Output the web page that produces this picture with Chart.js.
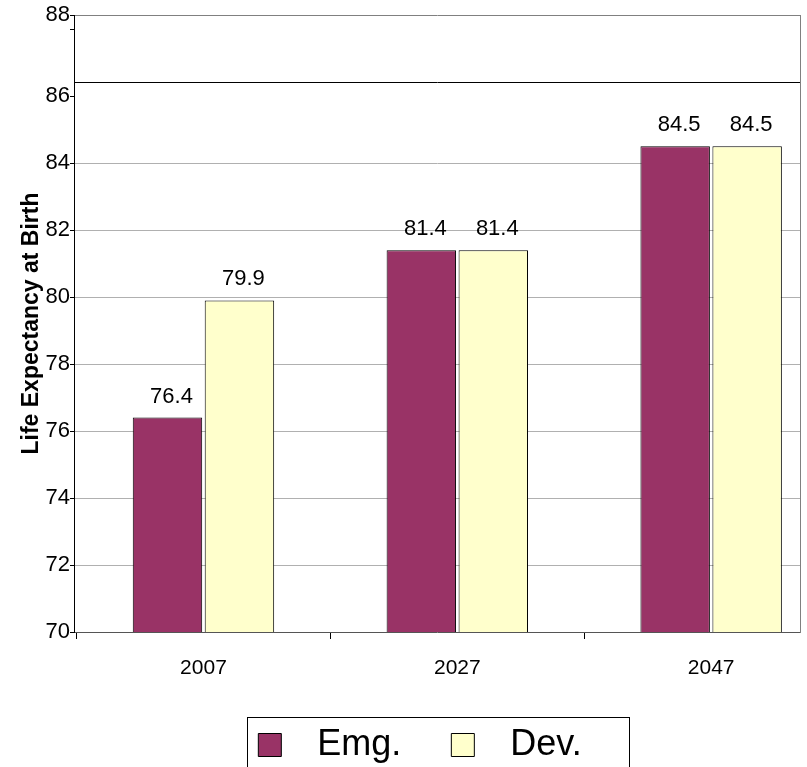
<!DOCTYPE html>
<html>
<head>
<meta charset="utf-8">
<title>Life Expectancy at Birth</title>
<script src="https://cdn.jsdelivr.net/npm/chart.js@4/dist/chart.umd.min.js"></script>
<style>
    html, body { margin: 0; padding: 0; background: #fff; overflow: hidden; }
</style>
</head>
<body>
<canvas id="chart" width="807" height="790"></canvas>
<script>
// data
const years = ["2007", "2027", "2047"];
const emg = [76.4, 81.4, 84.5];
const dev = [79.9, 81.4, 84.5];
const yTicks = [70, 72, 74, 76, 78, 80, 82, 84, 86, 88];

const yMin = 70;
const yTop = 88.42;       // top edge of the plot frame
const yFrameLine = 86.39; // dark line just under the frame top

Chart.defaults.font.family = "'Liberation Sans', Arial, sans-serif";
Chart.defaults.color = "#000";

// numbers above each bar
const valueLabels = {
    id: "valueLabels",
    afterDatasetsDraw(chart) {
        const ctx = chart.ctx;
        ctx.save();
        ctx.font = "22px 'Liberation Sans', Arial, sans-serif";
        ctx.fillStyle = "#000";
        ctx.textAlign = "center";
        ctx.textBaseline = "alphabetic";
        chart.data.datasets.forEach((ds, i) => {
            chart.getDatasetMeta(i).data.forEach((bar, j) => {
                ctx.fillText(ds.data[j].toFixed(1), bar.x + 4, bar.y - 15);
            });
        });
        ctx.restore();
    }
};

// frame round the legend
const legendFrame = {
    id: "legendFrame",
    afterDraw(chart) {
        const boxes = chart.legend.legendHitBoxes;
        if (!boxes || !boxes.length) return;
        const last = boxes[boxes.length - 1];
        const left = boxes[0].left - 11;
        const right = last.left + last.width + 48;
        const top = boxes[0].top - 10;
        const ctx = chart.ctx;
        ctx.save();
        ctx.strokeStyle = "#000";
        ctx.lineWidth = 1;
        ctx.strokeRect(Math.round(left) + 0.5, Math.round(top) + 0.5, Math.round(right - left), 80);
        ctx.restore();
    }
};

new Chart(document.getElementById("chart"), {
    type: "bar",
    data: {
        labels: years,
        datasets: [
            {
                label: "Emg.",
                data: emg,
                backgroundColor: "#993366",
                borderColor: "#000",
                borderWidth: 1,
                borderSkipped: false
            },
            {
                label: "Dev.",
                data: dev,
                backgroundColor: "#FFFFCC",
                borderColor: "#000",
                borderWidth: 1,
                borderSkipped: false
            }
        ]
    },
    options: {
        responsive: false,
        animation: false,
        categoryPercentage: 0.567,
        barPercentage: 0.965,
        layout: { padding: { left: 40, right: 7, top: 15, bottom: 17 } },
        plugins: {
            tooltip: { enabled: false },
            legend: {
                position: "bottom",
                labels: {
                    boxWidth: 23,
                    boxHeight: 23,
                    padding: 50,
                    font: { size: 36 },
                    color: "#000",
                    generateLabels(chart) {
                        return Chart.defaults.plugins.legend.labels.generateLabels(chart)
                            .map(item => ({ ...item, text: "\u2002" + item.text, strokeStyle: "#000", lineWidth: 1 }));
                    }
                }
            }
        },
        scales: {
            x: {
                offset: true,
                grid: {
                    offset: true,
                    drawOnChartArea: false,
                    tickLength: 7,
                    tickColor: "#000"
                },
                border: { color: "#555", width: 1 },
                ticks: { font: { size: 21 }, padding: 17, color: "#000" },
                afterBuildTicks(scale) {
                    // the categories run past the right edge of the frame
                    scale._startValue = -0.51;
                    scale._valueRange = 2.86;
                },
                afterFit(scale) { scale.height = 45; }
            },
            y: {
                min: yMin,
                max: yTop,
                afterBuildTicks(scale) {
                    scale.ticks = [...yTicks, yFrameLine, yTop]
                        .sort((a, b) => a - b)
                        .map(v => ({ value: v }));
                },
                afterFit(scale) { scale.width = 34; },
                ticks: {
                    autoSkip: false,
                    padding: 0,
                    font: { size: 22 },
                    color: "#000",
                    callback: v => {
                        if (v === yTop) return "88";
                        if (v === 88 || v === yFrameLine) return "";
                        return String(v);
                    }
                },
                grid: {
                    tickLength: 4,
                    color: ctx => {
                        const v = ctx.tick.value;
                        if (v === yFrameLine) return "#000";
                        if (v === yTop) return "#808080";
                        if (v === yMin || v > 84) return "rgba(0,0,0,0)";
                        return "#b0b0b0";
                    },
                    tickColor: ctx => (ctx.tick.value === yFrameLine ? "rgba(0,0,0,0)" : "#000")
                },
                border: { color: "#000", width: 1 },
                title: {
                    display: true,
                    text: "Life Expectancy at Birth",
                    font: { size: 23, weight: "bold" },
                    color: "#000",
                    padding: { top: -22, bottom: 0 }
                }
            },
            y2: {
                position: "right",
                grid: { display: false },
                ticks: { display: false },
                border: { color: "#808080", width: 1 },
                afterFit(scale) { scale.width = 0; }
            }
        }
    },
    plugins: [valueLabels, legendFrame]
});
</script>
</body>
</html>
